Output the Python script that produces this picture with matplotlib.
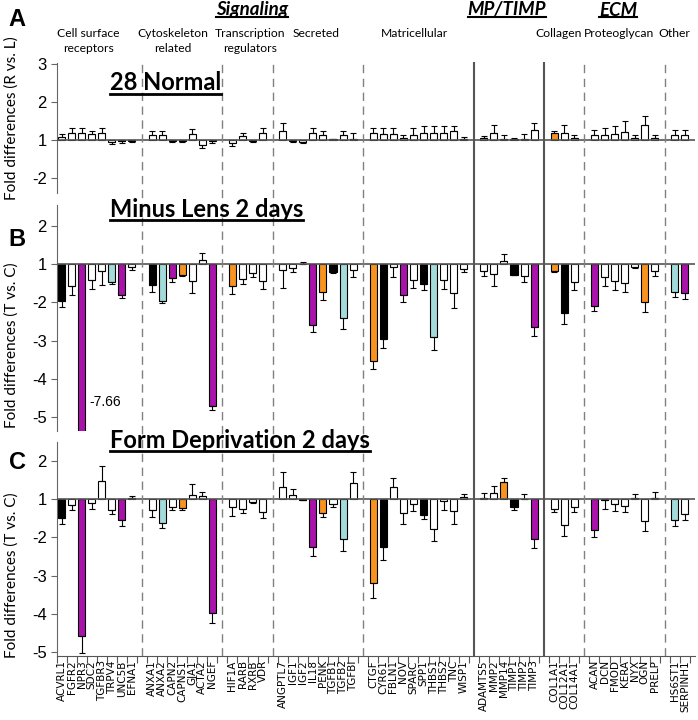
import numpy as np
import matplotlib.pyplot as plt
from matplotlib.lines import Line2D

# gene groups (order on the x axis, one empty slot between groups)
cell_surface = ["ACVRL1", "FGFR2", "NPR3", "SDC2", "TGFBR3", "TRPV4", "UNC5B", "EFNA1"]
cytoskeleton = ["ANXA1", "ANXA2", "CAPN2", "CAPNS1", "GJA1", "ACTA2", "NGEF"]
transcription = ["HIF1A", "RARB", "RXRB", "VDR"]
secreted = ["ANGPTL7", "IGF1", "IGF2", "IL18", "PENK", "TGFB1", "TGFB2", "TGFBI"]
matricellular = ["CTGF", "CYR61", "FBLN1", "NOV", "SPARC", "SPP1", "THBS1", "THBS2", "TNC", "WISP1"]
mp_timp = ["ADAMTS5", "MMP2", "MMP14", "TIMP1", "TIMP2", "TIMP3"]
collagen = ["COL1A1", "COL12A1", "COL14A1"]
proteoglycan = ["ACAN", "DCN", "FMOD", "KERA", "NYX", "OGN", "PRELP"]
other = ["HS6ST1", "SERPINH1"]
groups = [cell_surface, cytoskeleton, transcription, secreted, matricellular,
          mp_timp, collagen, proteoglycan, other]
solid_after = [4, 5]   # separators after matricellular and MP/TIMP are solid

# fold differences, error (one sided) and colour code per panel
normal_fold = [1.08, 1.17, 1.17, 1.15, 1.17, -1.05, -1.04, -1.02,
               1.13, 1.13, -1.03, -1.02, 1.16, -1.13, -1.03,
               -1.09, 1.09, -1.03, 1.17,
               1.22, -1.03, -1.05, 1.17, 1.13, 1.01, 1.12, 1.03,
               1.17, 1.15, 1.15, 1.06, 1.13, 1.17, 1.17, 1.17, 1.22, 1.03,
               1.04, 1.17, 1.02, 1.02, 1.03, 1.26,
               1.17, 1.17, 1.04,
               1.12, 1.12, 1.15, 1.20, 1.04, 1.39, 1.04,
               1.13, 1.13]
normal_err = [0.08, 0.15, 0.15, 0.08, 0.15, 0.05, 0.05, 0.04,
              0.10, 0.09, 0.02, 0.03, 0.12, 0.09, 0.06,
              0.08, 0.08, 0.04, 0.13,
              0.21, 0.02, 0.03, 0.15, 0.10, 0.01, 0.10, 0.14,
              0.15, 0.17, 0.17, 0.06, 0.17, 0.18, 0.18, 0.20, 0.15, 0.05,
              0.06, 0.23, 0.10, 0.03, 0.11, 0.17,
              0.05, 0.23, 0.08,
              0.14, 0.20, 0.20, 0.30, 0.08, 0.23, 0.08,
              0.13, 0.14]
normal_col = list("wwwwwwww" "wwwwwww" "wwww" "wwwwwwww" "wwwwwwwwww"
                  "wwwwww" "oww" "wwwwwww" "ww")

minus_fold = [-1.97, -1.58, -7.66, -1.43, -1.17, -1.48, -1.80, -1.08,
              -1.54, -1.96, -1.37, -1.28, -1.45, 1.11, -4.71,
              -1.57, -1.38, -1.23, -1.45,
              -1.15, -1.10, 1.01, -2.60, -1.74, -1.21, -2.41, -1.15,
              -3.54, -2.97, -1.09, -1.82, -1.43, -1.52, -2.90, -1.43, -1.77, -1.13,
              -1.19, -1.26, 1.07, -1.28, -1.32, -2.64,
              -1.17, -2.28, -1.48,
              -2.09, -1.34, -1.45, -1.50, -1.08, -2.00, -1.17,
              -1.73, -1.76]
minus_err = [0.16, 0.23, 0.0, 0.22, 0.39, 0.03, 0.10, 0.07,
             0.19, 0.07, 0.11, 0.03, 0.30, 0.17, 0.11,
             0.21, 0.14, 0.10, 0.20,
             0.48, 0.11, 0.04, 0.18, 0.19, 0.02, 0.30, 0.20,
             0.20, 0.23, 0.26, 0.17, 0.19, 0.17, 0.34, 0.23, 0.39, 0.08,
             0.13, 0.32, 0.19, 0.02, 0.16, 0.23,
             0.04, 0.29, 0.21,
             0.15, 0.24, 0.22, 0.24, 0.03, 0.26, 0.15,
             0.14, 0.16]
minus_col = list("kwpwwcpw" "kcpowwp" "owww" "wwwpokcw" "okwpwkcwww"
                 "wwwkwp" "okw" "pwwwwow" "cp")

form_fold = [-1.50, -1.16, -4.58, -1.11, 1.47, -1.29, -1.55, 1.04,
             -1.29, -1.62, -1.20, -1.24, 1.10, 1.08, -3.97,
             -1.22, -1.26, -1.07, -1.33,
             1.32, 1.10, -1.03, -2.24, -1.36, -1.13, -2.05, 1.43,
             -3.20, -2.26, 1.32, -1.36, -1.13, -1.42, -1.77, -1.05, -1.30, 1.06,
             1.02, 1.15, 1.45, -1.22, 1.01, -2.05,
             -1.26, -1.68, -1.20,
             -1.81, -1.03, -1.13, -1.17, 1.02, -1.57, 1.02,
             -1.55, -1.39]
form_err = [0.16, 0.13, 0.44, 0.15, 0.40, 0.11, 0.15, 0.04,
            0.17, 0.13, 0.09, 0.04, 0.28, 0.11, 0.28,
            0.23, 0.11, 0.04, 0.17,
            0.39, 0.16, 0.0, 0.24, 0.12, 0.07, 0.30, 0.28,
            0.39, 0.33, 0.22, 0.28, 0.17, 0.09, 0.33, 0.23, 0.36, 0.06,
            0.15, 0.20, 0.10, 0.07, 0.12, 0.22,
            0.09, 0.28, 0.15,
            0.17, 0.22, 0.18, 0.18, 0.10, 0.26, 0.17,
            0.15, 0.16]
form_col = list("kwpwwwpw" "wcwowwp" "wwww" "wwkpowcw" "okwwwkwwww"
                "wwokwp" "www" "pwwwwww" "cw")

colors = {"w": "white", "k": "black", "p": "#A913A9", "c": "#A3DADA", "o": "#F7931E"}

# x positions: one blank slot between groups
x = []
seps = []
pos = 0
for g in groups:
    for _ in g:
        x.append(pos)
        pos += 1
    seps.append(pos)
    pos += 1
seps = seps[:-1]
x = np.array(x)
genes = [n for g in groups for n in g]


def to_axis(v):
    v = np.asarray(v, dtype=float)
    return np.where(v >= 0, v - 1, v + 1)


def fold_label(t):
    return str(int(t + 1)) if t >= 0 else str(int(t - 1))


fig = plt.figure(figsize=(6.98, 7.2), dpi=100)
W, H = 698.0, 720.0
left = 56.5 / W
width = (695 - 56.5) / W
xlim = (-0.5, pos - 1.0)

panels = [
    (normal_fold, normal_err, normal_col, 63, 193, (-1.4, 2.02), [-1, 0, 1, 2]),
    (minus_fold, minus_err, minus_col, 205, 431, (-4.36, 1.54), [-4, -3, -2, -1, 0, 1]),
    (form_fold, form_err, form_col, 442, 656, (-4.1, 1.49), [-4, -3, -2, -1, 0, 1]),
]
axes = []
for fold, err, col, top, bot, ylim, ticks in panels:
    ax = fig.add_axes([left, 1 - bot / H, width, (bot - top) / H])
    y = to_axis(fold)
    e = np.array(err)
    lo = np.where(y < 0, e, 0)
    hi = np.where(y >= 0, e, 0)
    ax.bar(x, y, width=0.7, color=[colors[c] for c in col], edgecolor="black",
           linewidth=0.8, zorder=2)
    ax.errorbar(x, y, yerr=[lo, hi], fmt="none", ecolor="black", elinewidth=0.8,
                capsize=2.2, capthick=0.8, zorder=3)
    ax.axhline(0, color="#555555", lw=1.2, zorder=4)
    ax.set_xlim(*xlim)
    ax.set_ylim(*ylim)
    ax.set_yticks(ticks)
    ax.set_yticklabels([fold_label(t) for t in ticks], family="Liberation Sans", fontsize=12)
    ax.tick_params(axis="y", direction="out", length=4, color="#666666", pad=3)
    for s in ["top", "right", "bottom"]:
        ax.spines[s].set_visible(False)
    ax.spines["left"].set_color("#666666")
    ax.set_xticks([])
    ax.patch.set_alpha(0)
    axes.append(ax)

# bottom x axis with gene names
axC = axes[2]
axC.spines["bottom"].set_visible(True)
axC.spines["bottom"].set_color("#555555")
axC.set_xticks(np.arange(-0.5, pos - 1.0, 1.0))
axC.set_xticklabels([])
axC.tick_params(axis="x", which="major", direction="out", length=5, color="#555555")
axC.set_xticks(x, minor=True)
axC.set_xticklabels(genes, minor=True, rotation=90, fontsize=7.5, family="DejaVu Sans")
axC.tick_params(axis="x", which="minor", length=0, pad=3)

# -7.66 note for the clipped bar
axes[1].text(2.8, -3.6, "-7.66", fontsize=10, family="Liberation Sans", va="center", ha="left")

# group separators through all panels
ov = fig.add_axes([left, 1 - 656 / H, width, (656 - 62) / H])
ov.set_xlim(*xlim)
ov.set_ylim(0, 1)
ov.axis("off")
ov.patch.set_alpha(0)
for i, s in enumerate(seps):
    if i in solid_after:
        ov.axvline(s, color="#555555", lw=1.5, zorder=5)
    else:
        ov.axvline(s, color="#808080", lw=1.0, ls=(0, (6, 4)), zorder=5)

title_font = "Lato"
underlined = []

# panel letters
for lab, py in [("A", 20), ("B", 240), ("C", 462)]:
    fig.text(17 / W, 1 - py / H, lab, fontsize=17, fontweight="bold",
             family="Liberation Sans", ha="center", va="center")

# y axis titles
fig.text(12 / W, 1 - 118 / H, "Fold differences (R vs. L)", rotation=90, fontsize=11,
         family=title_font, ha="center", va="center")
fig.text(12 / W, 1 - 345 / H, "Fold differences (T vs. C)", rotation=90, fontsize=11,
         family=title_font, ha="center", va="center")
fig.text(12 / W, 1 - 575 / H, "Fold differences (T vs. C)", rotation=90, fontsize=11,
         family=title_font, ha="center", va="center")

# panel titles
for txt, py in [("28 Normal", 83), ("Minus Lens 2 days", 209), ("Form Deprivation 2 days", 440)]:
    t = fig.text(110 / W, 1 - py / H, txt, fontsize=17, fontweight="bold",
                 family=title_font, ha="left", va="center")
    underlined.append((t, 2.0))

# top headers
for txt, px in [("Signaling", 252), ("MP/TIMP", 507), ("ECM", 618)]:
    t = fig.text(px / W, 1 - 10 / H, txt, fontsize=13.5, fontweight="bold", style="italic",
                 family=title_font, ha="center", va="center")
    underlined.append((t, 1.5))

subheads = [("Cell surface\nreceptors", 88), ("Cytoskeleton\nrelated", 173),
            ("Transcription\nregulators", 250), ("Secreted", 316), ("Matricellular", 414),
            ("Collagen", 559), ("Proteoglycan", 619), ("Other", 674)]
for txt, px in subheads:
    fig.text(px / W, 1 - 28 / H, txt, fontsize=8.7, family=title_font,
             ha="center", va="top", linespacing=1.4)

fig.canvas.draw()
inv = fig.transFigure.inverted()
for t, lw in underlined:
    bb = t.get_window_extent().transformed(inv)
    yy = bb.y0 + 1.0 / H
    fig.add_artist(Line2D([bb.x0, bb.x1], [yy, yy], color="black", lw=lw,
                          transform=fig.transFigure))

fig.savefig("out.png", dpi=100)
